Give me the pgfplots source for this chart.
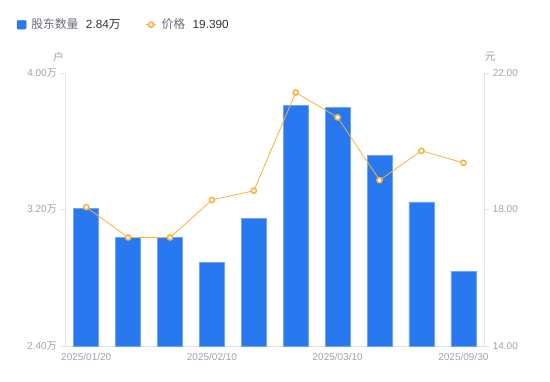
\documentclass[border=0pt]{standalone}
\usepackage{pgfplots}
\pgfplotsset{compat=1.18}
\usepackage{fontspec}
\setmainfont{Liberation Sans}
\newfontfamily\cjk{Noto Sans CJK SC}
\definecolor{barblue}{HTML}{2878F0}
\definecolor{baredge}{HTML}{6FA3F5}
\definecolor{lineor}{HTML}{F6B23C}
\definecolor{axgray}{HTML}{E3E3E8}
\definecolor{tickgray}{HTML}{A0A2B0}
\definecolor{legtext}{HTML}{6B6B78}
\definecolor{legval}{HTML}{333333}
\begin{document}
\begin{tikzpicture}
\useasboundingbox (0pt,0pt) rectangle (550pt,-381pt);
\pgfplotsset{common/.style={
  scale only axis, width=419pt, height=273pt,
  at={(65.3pt,-346pt)}, anchor=south west,
  xmin=-0.5, xmax=9.5,
  axis line style={draw=axgray, line width=0.8pt, -},
  tick label style={font=\fontsize{10}{12}\selectfont, text=tickgray},
  xtick style={draw=none},
  ytick style={draw=axgray, line width=0.8pt},
  tick align=outside, major tick length=5pt,
  clip=true,
}}
\begin{axis}[common,
  ymin=2.4, ymax=4.0,
  axis y line*=left, axis x line*=bottom,
  ytick={2.4,3.2,4.0},
  yticklabels={2.40{\cjk 万},3.20{\cjk 万},4.00{\cjk 万}},
  xtick={0,3,6,9},
  xticklabels={2025/01/20,2025/02/10,2025/03/10,2025/09/30},
  xticklabel style={yshift=1pt},
]
\addplot[ybar, bar width=25pt, fill=barblue, draw=baredge, line width=0.6pt]
coordinates {(0,3.207) (1,3.037) (2,3.037) (3,2.890) (4,3.149) (5,3.811) (6,3.799) (7,3.518) (8,3.244) (9,2.838)};
\end{axis}
\begin{axis}[common,
  ymin=14, ymax=22,
  axis y line*=right, axis x line=none,
  ytick={14,18,22},
  yticklabels={14.00,18.00,22.00},
  legend columns=2,
  legend cell align=left,
  legend style={at={(-0.116,1.177)}, anchor=west, draw=none, fill=none, inner sep=0pt,
    nodes={inner xsep=5pt, inner ysep=0pt, font=\fontsize{11.8}{13}\selectfont},
    /tikz/every even column/.append style={column sep=20pt}},
]
\addlegendimage{legend image code/.code={\fill[barblue, rounded corners=1pt] (0pt,-4.4pt) rectangle (9pt,4.4pt);}}
\addlegendentry{{\color{legtext}\cjk 股东数量}\hspace{7.5pt}{\color{legval}2.84{\cjk 万}}}
\addplot[color=lineor, line width=0.8pt, mark=*, mark size=2.6pt,
  mark options={fill=white, draw=lineor, line width=1.5pt},
  legend image code/.code={\draw[lineor, line width=0.8pt] (0pt,0pt) -- (10pt,0pt); \draw[lineor, line width=1.5pt, fill=white] (5pt,0pt) circle (2.5pt);}]
coordinates {(0,18.07) (1,17.18) (2,17.18) (3,18.28) (4,18.55) (5,21.43) (6,20.70) (7,18.86) (8,19.72) (9,19.37)};
\addlegendentry{{\color{legtext}\cjk 价格}\hspace{7.5pt}{\color{legval}19.390}}
\end{axis}
\node[text=tickgray, font=\cjk\fontsize{11}{12}\selectfont] at (58.5pt,-57pt) {户};
\node[text=tickgray, font=\cjk\fontsize{11}{12}\selectfont] at (490pt,-57pt) {元};
\end{tikzpicture}
\end{document}
